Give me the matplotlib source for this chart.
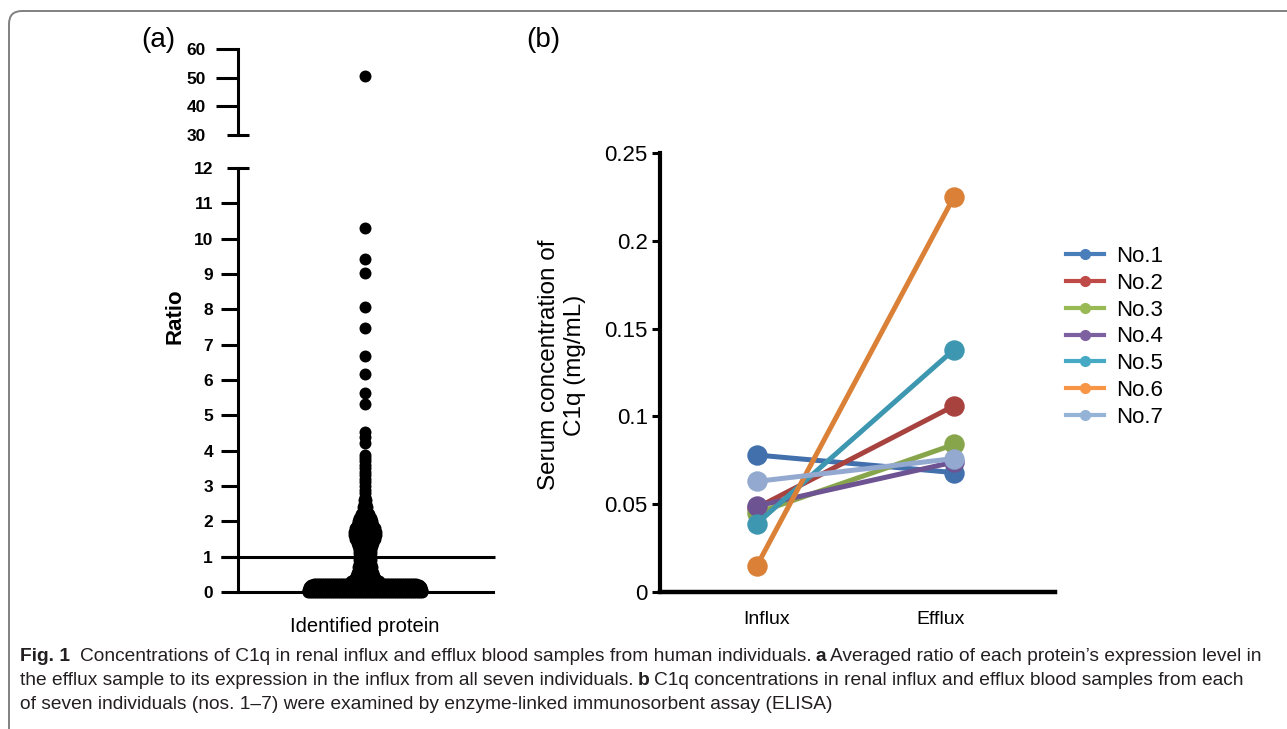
import numpy as np
import matplotlib
matplotlib.use('Agg')
import matplotlib.pyplot as plt
from matplotlib.lines import Line2D
from matplotlib.patches import FancyBboxPatch

plt.rcParams['font.family'] = ['Liberation Sans', 'DejaVu Sans']

# (a) ratio of efflux / influx expression: value level and number of proteins at that level
ratio_levels = [0.01, 0.04, 0.07, 0.10, 0.13, 0.16, 0.19, 0.22,
                0.30, 0.35, 0.40, 0.45, 0.50, 0.55, 0.60, 0.70, 0.80, 0.90,
                1.00, 1.10, 1.20, 1.30, 1.40, 1.50, 1.60, 1.70, 1.80, 1.90,
                2.00, 2.10, 2.20, 2.30, 2.40, 2.50, 2.60, 2.70, 2.80, 2.90,
                3.00, 3.10, 3.20, 3.30, 3.40, 3.50, 3.60, 3.70, 3.80, 3.88,
                4.21, 4.40, 4.54, 5.32, 5.63, 6.17, 6.68, 7.47, 8.07, 9.03,
                9.42, 10.30, 50.7]
ratio_counts = [58, 58, 58, 57, 57, 56, 55, 52,
                15, 12, 11, 10, 9, 9, 8, 8, 7, 7,
                7, 7, 7, 8, 9, 11, 12, 12, 11, 9,
                8, 7, 5, 3, 3, 2, 2, 1, 1, 1,
                1, 1, 1, 1, 1, 1, 1, 1, 1, 1,
                1, 1, 1, 1, 1, 1, 1, 1, 1, 1,
                1, 1, 1]
lo_ticks = [0, 1, 2, 3, 4, 5, 6, 7, 8, 9, 10, 11]
hi_ticks = [40, 50, 60]

# (b) ELISA, serum C1q (mg/mL)
subjects = ['No.1', 'No.2', 'No.3', 'No.4', 'No.5', 'No.6', 'No.7']
influx = [0.078, 0.048, 0.045, 0.049, 0.039, 0.015, 0.063]
efflux = [0.068, 0.106, 0.084, 0.074, 0.138, 0.225, 0.076]
groups = ['Influx', 'Efflux']
b_ticks = [0, 0.05, 0.1, 0.15, 0.2, 0.25]
b_ticklabels = ['0', '0.05', '0.1', '0.15', '0.2', '0.25']

line_colors = ['#4170AC', '#A8423F', '#87A54A', '#6D5392', '#3D97B0', '#DA8137', '#93A9D0']
legend_colors = ['#4A7EBB', '#BE4B48', '#98B954', '#7D60A0', '#46AAC5', '#F79646', '#95B3D7']

W, H = 1287, 729
fig = plt.figure(figsize=(W / 100, H / 100), dpi=100)

# background axes in pixel units for frame + caption
ax_bg = fig.add_axes([0, 0, 1, 1], zorder=-1)
ax_bg.set_xlim(0, W)
ax_bg.set_ylim(H, 0)
ax_bg.axis('off')
ax_bg.add_patch(FancyBboxPatch((9, 11), 1400, 800, boxstyle='round,pad=0,rounding_size=13',
                               ec='#808080', fc='none', lw=1.4))

# ---- panel (a): broken y axis, swarm of proteins
gap = 2.0
xs, ys = [], []
for v, n in zip(ratio_levels, ratio_counts):
    xs.extend((np.arange(n) - (n - 1) / 2) * gap)
    ys.extend([v] * n)
xs = np.array(xs)
ys = np.array(ys)

ax_lo = fig.add_axes([238 / W, 1 - 592 / H, (493 - 238) / W, (592 - 168) / H])
ax_hi = fig.add_axes([238 / W, 1 - 135 / H, (493 - 238) / W, (135 - 49) / H])
for ax in (ax_lo, ax_hi):
    ax.set_xlim(-127, 128)
    ax.set_xticks([])
    ax.patch.set_alpha(0)
    for s in ['top', 'right']:
        ax.spines[s].set_visible(False)
    ax.spines['left'].set_linewidth(2.2)
    ax.spines['bottom'].set_linewidth(2.2)
ax_hi.spines['bottom'].set_visible(False)

low = ys <= 12
ax_lo.scatter(xs[low], ys[low], s=74, color='black', lw=0, clip_on=False, zorder=3)
ax_hi.scatter(xs[~low], ys[~low], s=74, color='black', lw=0, clip_on=False, zorder=3)
ax_lo.hlines(1, -144, 130, color='black', lw=2.2, clip_on=False)

ax_lo.set_ylim(0, 12)
ax_lo.set_yticks(lo_ticks, [str(t) for t in lo_ticks])
ax_lo.set_yticks([12], ['12'], minor=True)
ax_lo.tick_params(axis='y', which='major', length=12, width=2.2, labelsize=12.5, pad=6)
ax_lo.tick_params(axis='y', which='minor', direction='inout', length=16, width=2.2, labelsize=12.5, pad=10)

ax_hi.set_ylim(30, 60)
ax_hi.set_yticks(hi_ticks, [str(t) for t in hi_ticks])
ax_hi.set_yticks([30], ['30'], minor=True)
ax_hi.tick_params(axis='y', which='major', length=16, width=2.2, labelsize=12.5, pad=7)
ax_hi.tick_params(axis='y', which='minor', direction='inout', length=16, width=2.2, labelsize=12.5, pad=15)

for ax in (ax_lo, ax_hi):
    for lbl in ax.get_yticklabels(which='both'):
        lbl.set_fontweight('bold')

fig.text(175 / W, 1 - 316 / H, 'Ratio', rotation=90, fontsize=16, fontweight='bold',
         ha='center', va='center')
fig.text(365 / W, 1 - 627 / H, 'Identified protein', fontsize=14.5, ha='center', va='center')
fig.text(158 / W, 1 - 40 / H, '(a)', fontsize=20, ha='center', va='center')
fig.text(543 / W, 1 - 40 / H, '(b)', fontsize=20, ha='center', va='center')

# ---- panel (b): paired influx/efflux lines
ax_b = fig.add_axes([660 / W, 1 - 592 / H, (1055 - 660) / W, (592 - 153) / H])
ax_b.patch.set_alpha(0)
for i, name in enumerate(subjects):
    ax_b.plot([0, 1], [influx[i], efflux[i]], color=line_colors[i], lw=3.6,
              marker='o', ms=13.7, clip_on=False, solid_capstyle='round')
ax_b.set_xlim(-0.492, 1.513)
ax_b.set_ylim(0, 0.25)
for s in ['top', 'right']:
    ax_b.spines[s].set_visible(False)
ax_b.spines['left'].set_linewidth(3)
ax_b.spines['bottom'].set_linewidth(3.2)
ax_b.set_yticks(b_ticks, b_ticklabels)
ax_b.tick_params(axis='y', length=5.8, width=2.2, labelsize=16, pad=3)
ax_b.set_xticks([0.05, 0.93], groups)
ax_b.tick_params(axis='x', length=0, labelsize=14, pad=14)

fig.text(562 / W, 1 - 365 / H, 'Serum concentration of\nC1q (mg/mL)', rotation=90,
         fontsize=17.5, ha='center', va='center', multialignment='center')

handles = [Line2D([], [], color=c, lw=3, marker='o', ms=7) for c in legend_colors]
fig.legend(handles, subjects, loc='upper left', bbox_to_anchor=(1066 / W, 1 - 246 / H),
           frameon=False, fontsize=16, handlelength=1.7, handletextpad=0.55,
           labelspacing=0.26, borderaxespad=0, borderpad=0)

# ---- caption
cap_size = 13.8
cap_color = '#231F20'
caption = [
    (661, [('Fig. 1', True, 0), ('Concentrations of C1q in renal influx and efflux blood samples from human individuals.', False, 7),
           ('a', True, 3), ('Averaged ratio of each protein\u2019s expression level in', False, 3)]),
    (685, [('the efflux sample to its expression in the influx from all seven individuals.', False, 0),
           ('b', True, 3), ('C1q concentrations in renal influx and efflux blood samples from each', False, 3)]),
    (709, [('of seven individuals (nos. 1\u20137) were examined by enzyme-linked immunosorbent assay (ELISA)', False, 0)]),
]
for y, parts in caption:
    prev = None
    for txt, bold, sp in parts:
        w = 'bold' if bold else 'normal'
        if prev is None:
            prev = ax_bg.text(20, y, txt, fontsize=cap_size, fontweight=w, color=cap_color, va='baseline')
        else:
            prev = ax_bg.annotate(txt, xy=(1, 0), xycoords=prev, xytext=(sp, 0), textcoords='offset points',
                                  fontsize=cap_size, fontweight=w, color=cap_color, va='bottom', ha='left')

fig.savefig('out.png', dpi=100)
